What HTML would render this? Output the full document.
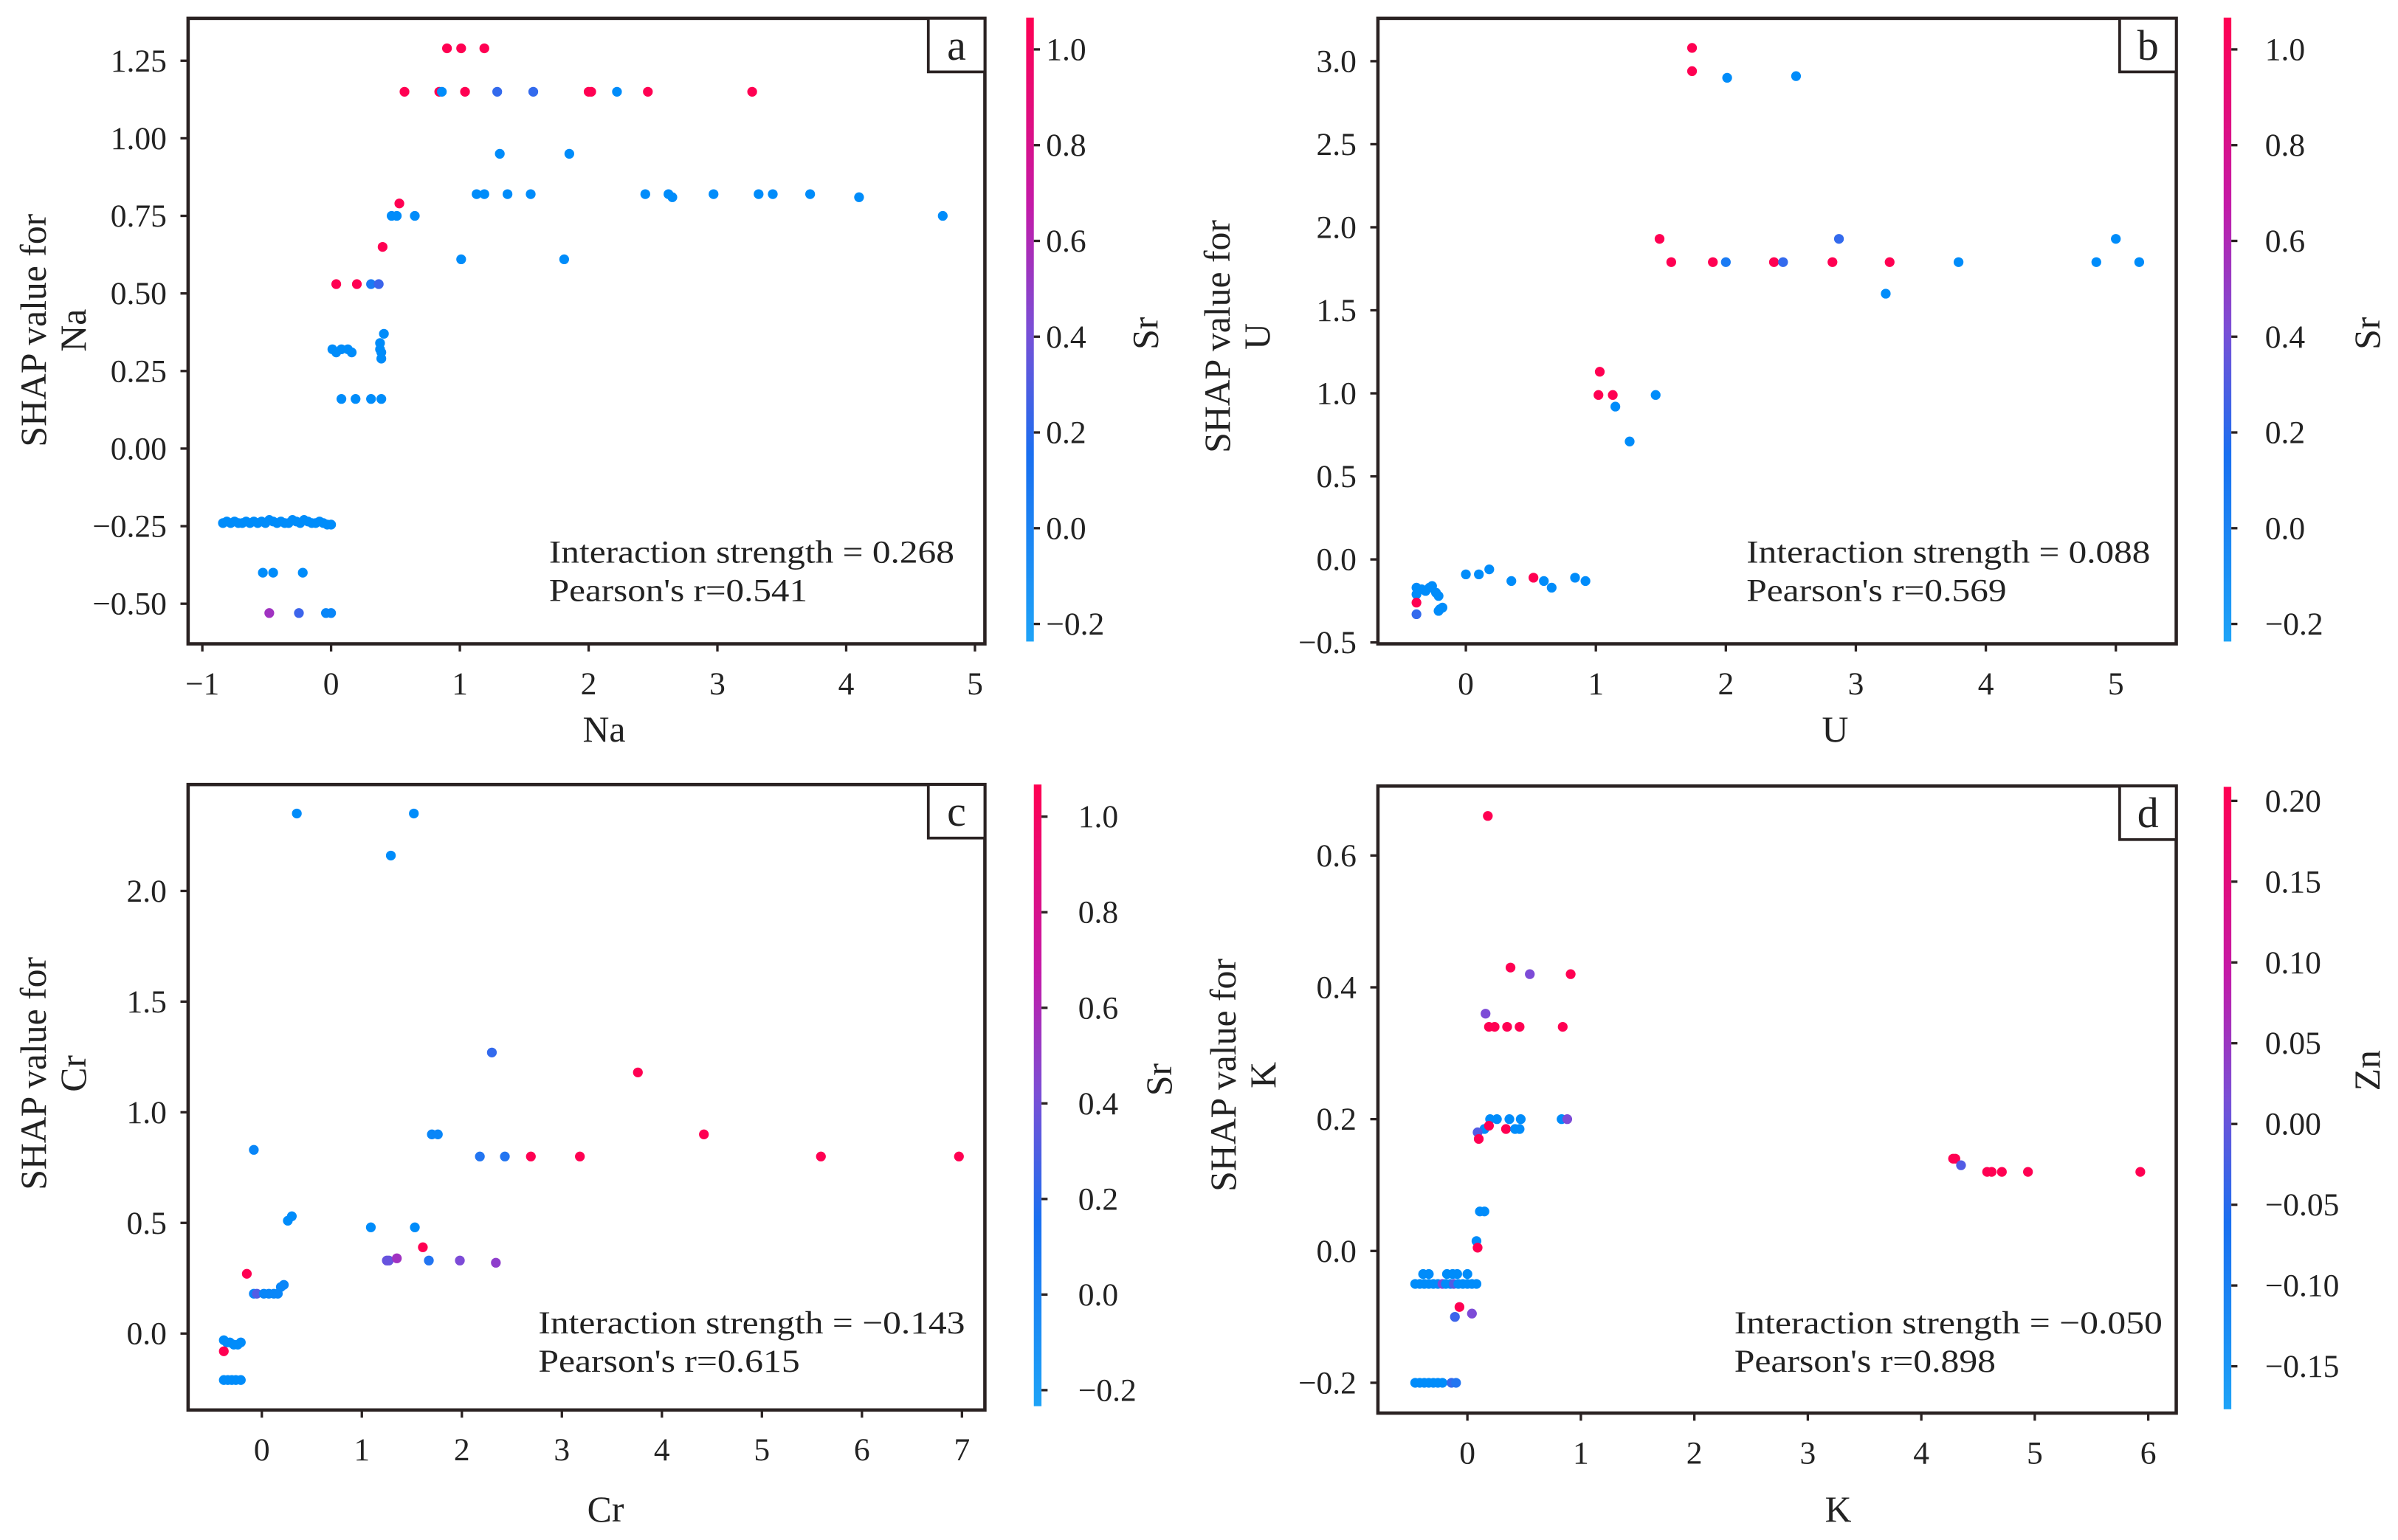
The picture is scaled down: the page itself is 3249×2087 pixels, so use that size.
<!DOCTYPE html>
<html><head><meta charset="utf-8">
<style>
html,body{margin:0;padding:0;background:#fff;}
svg{display:block;}
text{font-family:"Liberation Serif","DejaVu Serif",serif;fill:#222;}
</style></head>
<body>
<svg id="fig" width="3249" height="2087" viewBox="0 0 1568 1007" preserveAspectRatio="none" xmlns="http://www.w3.org/2000/svg">
<defs>
<linearGradient id="cbar" x1="0" y1="1" x2="0" y2="0">
<stop offset="0" stop-color="#1ea3f7"/>
<stop offset="0.3" stop-color="#1a6ff0"/>
<stop offset="0.5" stop-color="#7a4fd6"/>
<stop offset="0.7" stop-color="#c41aa8"/>
<stop offset="1" stop-color="#ff0052"/>
</linearGradient>
</defs>
</svg>
<script>
// ---------- Panel a data (Na, colored by Sr) ----------
const aX = [0.90,1.01,1.19, 0.57,0.84,0.86,1.04,1.29,1.57,2.0,2.02,2.22,2.46,3.27, 1.31,1.85,
 1.13,1.19,1.37,1.55,2.44,2.62,2.65,2.97,3.32,3.43,3.72,4.1,4.75, 0.53, 0.47,0.51,0.65, 0.40, 1.01,1.81,
 0.04,0.20,0.31,0.37, 0.41, 0.01,0.04,0.08,0.13,0.16,0.38,0.38,0.39,0.39, 0.08,0.19,0.31,0.39,
 -0.84,-0.81,-0.78,-0.75,-0.72,-0.69,-0.66,-0.63,-0.60,-0.57,-0.54,-0.51,-0.48,-0.45,-0.42,-0.39,-0.36,-0.33,-0.30,-0.27,-0.24,-0.21,-0.18,-0.15,-0.12,-0.09,-0.06,-0.03,0.0,
 -0.53,-0.45,-0.22, -0.48,-0.25,-0.04,0.0];
const aY = [1.29,1.29,1.29, 1.15,1.15,1.15,1.15,1.15,1.15,1.15,1.15,1.15,1.15,1.15, 0.95,0.95,
 0.82,0.82,0.82,0.82,0.82,0.82,0.81,0.82,0.82,0.82,0.82,0.81,0.75, 0.79, 0.75,0.75,0.75, 0.65, 0.61,0.61,
 0.53,0.53,0.53,0.53, 0.37, 0.32,0.31,0.32,0.32,0.31,0.34,0.32,0.31,0.29, 0.16,0.16,0.16,0.16,
 -0.24,-0.235,-0.24,-0.235,-0.24,-0.24,-0.235,-0.24,-0.235,-0.24,-0.235,-0.24,-0.23,-0.235,-0.24,-0.235,-0.24,-0.24,-0.23,-0.235,-0.24,-0.23,-0.235,-0.24,-0.24,-0.235,-0.24,-0.245,-0.245,
 -0.40,-0.40,-0.40, -0.53,-0.53,-0.53,-0.53];
const aC = [1,1,1, 1,1,0,1,0.3,0.3,1,1,0,1,1, 0,0,
 0,0,0,0,0,0,0,0,0,0,0,0,0, 1, 0,0,0, 1, 0,0,
 1,1,0.15,0.35, 0, 0,0,0,0,0,0,0,0,0, 0,0,0,0,
 0,0,0,0,0,0,0,0,0,0,0,0,0,0,0,0,0,0,0,0,0,0,0,0,0,0,0,0,0,
 0,0,0, 0.6,0.35,0.05,0.05];
// ---------- Panel b data (U, colored by Sr) ----------
const bX = [1.74,1.74,2.01,2.54, 1.49,2.87,5.0, 1.58,1.9,2.0,2.37,2.44,2.82,3.26,3.79,4.85,5.18, 3.23,
 1.03,1.02,1.13,1.46,1.15,1.26, 0.0,0.1,0.18,0.35,0.52,0.6,0.66,0.84,0.92,
 -0.38,-0.38,-0.38,-0.38,-0.34,-0.31,-0.28,-0.26,-0.23,-0.21,-0.20,-0.18,-0.21];
const bY = [3.08,2.94,2.90,2.91, 1.93,1.93,1.93, 1.79,1.79,1.79,1.79,1.79,1.79,1.79,1.79,1.79,1.79, 1.60,
 1.13,0.99,0.99,0.99,0.92,0.71, -0.09,-0.09,-0.06,-0.13,-0.11,-0.13,-0.17,-0.11,-0.13,
 -0.17,-0.21,-0.26,-0.33,-0.18,-0.19,-0.17,-0.16,-0.20,-0.22,-0.30,-0.29,-0.31];
const bC = [1,1,0,0, 1,0.3,0, 1,1,0.15,1,0.3,1,1,0,0,0, 0,
 1,1,1,0,0,0, 0,0,0,0,1,0,0,0,0,
 0,0,1,0.3,0,0,0,0,0,0,0,0,0];
// ---------- Panel c data (Cr, colored by Sr) ----------
const cX = [0.35,1.52,1.29, 2.30,3.76, 1.70,1.76,4.42, 2.18,2.43,2.69,3.18,5.59,6.97, -0.08, 0.30,0.26,
 1.09,1.53, 1.61, 1.25,1.27,1.67,1.98,1.35,2.34, -0.15, 0.19,0.22, -0.08,-0.05,0.02,0.07,0.12,0.16,
 -0.38,-0.35,-0.32,-0.28,-0.24,-0.21, -0.38, -0.38,-0.34,-0.30,-0.26,-0.21];
const cY = [2.35,2.35,2.16, 1.27,1.18, 0.90,0.90,0.90, 0.80,0.80,0.80,0.80,0.80,0.80, 0.83, 0.53,0.51,
 0.48,0.48, 0.39, 0.33,0.33,0.33,0.33,0.34,0.32, 0.27, 0.21,0.22, 0.18,0.18,0.18,0.18,0.18,0.18,
 -0.03,-0.04,-0.04,-0.05,-0.05,-0.04, -0.08, -0.21,-0.21,-0.21,-0.21,-0.21];
const cC = [0,0,0, 0.3,1, 0.05,0.05,1, 0.2,0.2,1,1,1,1, 0.05, 0,0,
 0,0, 1, 0.45,0.45,0.2,0.5,0.6,0.55, 1, 0.05,0.05, 0.05,0.4,0.05,0.05,0.05,0.05,
 0,0,0,0,0,0, 1, 0,0,0,0,0];
// ---------- Panel d data (K, colored by Zn) ----------
const dX = [0.18, 0.38,0.55,0.91, 0.16, 0.19,0.24,0.35,0.46,0.84, 0.20,0.26,0.37,0.47,0.83,0.88,
 0.15,0.19,0.34,0.42,0.46, 0.09,0.10, 0.11,0.15, 0.08,0.09,
 -0.39,-0.34,-0.18,-0.13,-0.09,0.0,
 -0.46,-0.42,-0.38,-0.34,-0.30,-0.26,-0.22,-0.19,-0.15,-0.12,-0.08,-0.04,0.0,0.04,0.08,
 -0.07,0.04,-0.11,
 -0.46,-0.42,-0.38,-0.34,-0.30,-0.26,-0.22,-0.14,-0.10,
 4.28,4.30,4.35,4.58,4.62,4.71,4.94,5.93];
const dY = [0.66, 0.43,0.42,0.42, 0.36, 0.34,0.34,0.34,0.34,0.34, 0.20,0.20,0.20,0.20,0.20,0.20,
 0.185,0.19,0.185,0.185,0.185, 0.18,0.17, 0.06,0.06, 0.015,0.005,
 -0.035,-0.035,-0.035,-0.035,-0.035,-0.035,
 -0.05,-0.05,-0.05,-0.05,-0.05,-0.05,-0.05,-0.05,-0.05,-0.05,-0.05,-0.05,-0.05,-0.05,-0.05,
 -0.085,-0.095,-0.10,
 -0.20,-0.20,-0.20,-0.20,-0.20,-0.20,-0.20,-0.20,-0.20,
 0.14,0.14,0.13,0.12,0.12,0.12,0.12,0.12];
const dC = [1, 1,0.5,1, 0.5, 1,1,1,1,1, 0,0,0,0,0,0.5,
 0,1,1,0,0, 0.4,1, 0,0, 0,1,
 0,0,0,0,0,0,
 0,0,0,0,0,0,0.5,0,0,0.4,0,0,0,0,0,
 1,0.5,0.35,
 0,0,0,0,0,0,0,0.3,0.2,
 1,1,0.4,1,1,1,1,1];
// tick labels
const aXT = [-1,0,1,2,3,4,5], aXL = ["\u22121","0","1","2","3","4","5"];
const aYT = [1.25,1.0,0.75,0.5,0.25,0,-0.25,-0.5], aYL = ["1.25","1.00","0.75","0.50","0.25","0.00","\u22120.25","\u22120.50"];
const bXT = [0,1,2,3,4,5], bXL = ["0","1","2","3","4","5"];
const bYT = [3,2.5,2,1.5,1,0.5,0,-0.5], bYL = ["3.0","2.5","2.0","1.5","1.0","0.5","0.0","\u22120.5"];
const cXT = [0,1,2,3,4,5,6,7], cXL = ["0","1","2","3","4","5","6","7"];
const cYT = [2,1.5,1,0.5,0], cYL = ["2.0","1.5","1.0","0.5","0.0"];
const dXT = [0,1,2,3,4,5,6], dXL = ["0","1","2","3","4","5","6"];
const dYT = [0.6,0.4,0.2,0,-0.2], dYL = ["0.6","0.4","0.2","0.0","\u22120.2"];
const srT = [1.0,0.8,0.6,0.4,0.2,0.0,-0.2], srL = ["1.0","0.8","0.6","0.4","0.2","0.0","\u22120.2"];
const znT = [0.20,0.15,0.10,0.05,0.00,-0.05,-0.10,-0.15], znL = ["0.20","0.15","0.10","0.05","0.00","\u22120.05","\u22120.10","\u22120.15"];

const NS = "http://www.w3.org/2000/svg";
const svg = document.getElementById('fig');
function mk(tag, attrs, parent){ const e=document.createElementNS(NS,tag); for(const k in attrs) e.setAttribute(k,attrs[k]); (parent||svg).appendChild(e); return e; }
const stops=[[0,[0,140,250]],[0.35,[60,100,235]],[0.5,[125,75,215]],[0.7,[195,25,170]],[1,[255,0,82]]];
function col(t){ for(let i=1;i<stops.length;i++){ if(t<=stops[i][0]){ const a=stops[i-1],b=stops[i]; const f=(t-a[0])/(b[0]-a[0]); const c=a[1].map((v,j)=>Math.round(v+(b[1][j]-v)*f)); return `rgb(${c[0]},${c[1]},${c[2]})`; } } return 'rgb(255,0,82)'; }

function panel(p){
  const g = mk('g',{});
  
  
  const sx = v => p.x0 + v*p.xu;
  const sy = v => p.yRef - (v - p.yRefV)*p.yu;
  // frame
  const fr = mk('rect',{x:p.L,y:p.T,width:p.R-p.L,height:p.B-p.T,fill:'none',stroke:'#2a2222','stroke-width':2.2},g);
  
  
  // x ticks
  p.xt.forEach((v,i)=>{
    const x=sx(v);
    mk('line',{x1:x,x2:x,y1:p.B,y2:p.B+5,stroke:'#2a2222','stroke-width':1.6},g);
    const t=mk('text',{x:x,y:p.B+33,'text-anchor':'middle','font-size':21},g);
    t.textContent=p.xl[i];
    
    
  });
  p.yt.forEach((v,i)=>{
    const y=sy(v);
    mk('line',{x1:p.L-5,x2:p.L,y1:y,y2:y,stroke:'#2a2222','stroke-width':1.6},g);
    const t=mk('text',{x:p.L-14,y:y+7,'text-anchor':'end','font-size':21},g);
    t.textContent=p.yl[i];
    
    
  });
  // points
  p.X.forEach((v,i)=>{
    const c=mk('circle',{cx:sx(v),cy:sy(p.Y[i]),r:3.2,fill:col(p.C[i])},g);
    
    
  });
  // letter box
  const lb=mk('rect',{x:p.R-37,y:p.T,width:37,height:35,fill:'#fff',stroke:'#2a2222','stroke-width':1.8},g);
  
  
  const lt=mk('text',{x:p.R-18.5,y:p.T+27,'text-anchor':'middle','font-size':28},g);
  lt.textContent=p.letter;
  
  
  // annotation
  const a1=mk('text',{x:p.annX,y:p.annY,'font-size':21,textLength:p.w1,lengthAdjust:'spacingAndGlyphs'},g);
  a1.textContent='Interaction strength = '+p.inter;
  
  
  const a2=mk('text',{x:p.annX,y:p.annY+25,'font-size':21,textLength:p.w2,lengthAdjust:'spacingAndGlyphs'},g);
  a2.textContent="Pearson's r="+p.r;
  
  
  // axis labels
  const xl=mk('text',{x:p.xlX,y:p.xlY,'text-anchor':'middle','font-size':24},g);
  xl.textContent=p.feat;
  
  
  const yl=mk('text',{transform:`translate(${p.ylX},${p.ylY}) rotate(-90)`,'text-anchor':'middle','font-size':24},g);
  
  
  const s1=mk('tspan',{x:0,dy:0},yl); s1.textContent='SHAP value for';
  const s2=mk('tspan',{x:0,dy:26},yl); s2.textContent=p.feat;
  // colorbar
  const cb=mk('rect',{x:p.cbX,y:p.cbT,width:5,height:p.cbB-p.cbT,fill:'url(#cbar)'},g);
  
  
  const cy = v => p.cbT0y + (p.cbT0v - v)*(p.cbT1y-p.cbT0y)/(p.cbT0v-p.cbT1v);
  p.ct.forEach((v,i)=>{
    const y=cy(v);
    mk('line',{x1:p.cbX+5,x2:p.cbX+9,y1:y,y2:y,stroke:'#2a2222','stroke-width':1.6},g);
    const t=mk('text',{x:p.ctX,y:y+7,'font-size':21},g);
    t.textContent=p.cl[i];
    
    
  });
  const ct=mk('text',{transform:`translate(${p.ctitX},${p.ctitY}) rotate(-90)`,'text-anchor':'middle','font-size':24},g);
  ct.textContent=p.cfeat;
  
  
}

panel({name:'panel-a-na',letter:'a',feat:'Na',cfeat:'Sr',L:123,R:644,T:12,B:421,x0:216.5,xu:84.2,yRef:39.7,yRefV:1.25,yu:202.9,
 xt:aXT,xl:aXL,yt:aYT,yl:aYL,X:aX,Y:aY,C:aC,annX:359,annY:368,w1:265,w2:169,inter:'0.268',r:'0.541',
 xlX:395,xlY:485,ylX:30,ylY:216,cbX:671,cbT:11.5,cbB:419.5,cbT0y:32.3,cbT0v:1.0,cbT1y:408,cbT1v:-0.2,ct:srT,cl:srL,ctX:684,ctitX:757,ctitY:218});
panel({name:'panel-b-u',letter:'b',feat:'U',cfeat:'Sr',L:901,R:1423,T:12,B:421,x0:958.5,xu:85,yRef:40,yRefV:3.0,yu:108.6,
 xt:bXT,xl:bXL,yt:bYT,yl:bYL,X:bX,Y:bY,C:bC,annX:1142,annY:368,w1:264,w2:170,inter:'0.088',r:'0.569',
 xlX:1200,xlY:485,ylX:804,ylY:220,cbX:1454,cbT:11.5,cbB:419.5,cbT0y:32.3,cbT0v:1.0,cbT1y:408,cbT1v:-0.2,ct:srT,cl:srL,ctX:1481,ctitX:1556,ctitY:218});
panel({name:'panel-c-cr',letter:'c',feat:'Cr',cfeat:'Sr',L:123,R:644,T:513,B:922,x0:171.2,xu:65.4,yRef:872,yRefV:0,yu:144.7,
 xt:cXT,xl:cXL,yt:cYT,yl:cYL,X:cX,Y:cY,C:cC,annX:352,annY:872,w1:279,w2:171,inter:'\u22120.143',r:'0.615',
 xlX:396,xlY:995,ylX:30,ylY:702,cbX:676,cbT:513,cbB:919.5,cbT0y:534,cbT0v:1.0,cbT1y:909,cbT1v:-0.2,ct:srT,cl:srL,ctX:705,ctitX:766,ctitY:706});
panel({name:'panel-d-k',letter:'d',feat:'K',cfeat:'Zn',L:901,R:1423,T:514,B:924,x0:959.5,xu:74.2,yRef:559.4,yRefV:0.6,yu:431,
 xt:dXT,xl:dXL,yt:dYT,yl:dYL,X:dX,Y:dY,C:dC,annX:1134,annY:872,w1:280,w2:171,inter:'\u22120.050',r:'0.898',
 xlX:1202,xlY:995,ylX:808,ylY:703,cbX:1454,cbT:514.5,cbB:921.5,cbT0y:523.7,cbT0v:0.20,cbT1y:893.4,cbT1v:-0.15,ct:znT,cl:znL,ctX:1481,ctitX:1556,ctitY:700});
</script>
</body></html>
